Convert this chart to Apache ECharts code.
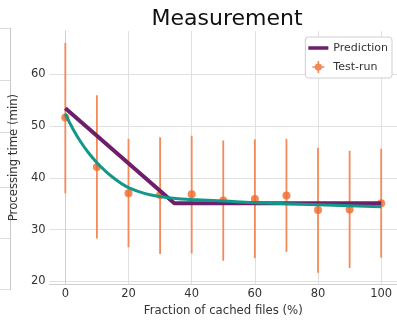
<!DOCTYPE html>
<html>
<head>
<meta charset="utf-8">
<script src="https://cdn.jsdelivr.net/npm/echarts@6/dist/echarts.min.js"></script>
<style>
  html, body { margin: 0; padding: 0; background: #fff; }
  #main { width: 397px; height: 322px; }
</style>
</head>
<body>
<div id="main"></div>
<script>
// test runs: fraction of cached files vs processing time
var runX = [0, 10, 20, 30, 40, 50, 60, 70, 80, 90, 100];
var runMean = [51.6, 42.1, 37.0, 36.7, 36.8, 35.6, 35.9, 36.6, 33.8, 33.9, 35.1];
var runLow = [37.0, 28.3, 26.6, 25.3, 25.4, 24.0, 24.5, 25.7, 21.7, 22.6, 24.6];
var runHigh = [66.0, 55.9, 47.5, 47.8, 48.1, 47.2, 47.4, 47.5, 45.8, 45.2, 45.6];

// prediction (piecewise linear)
var predX = [0, 34.5, 100];
var predY = [53.4, 35.1, 35.1];

// fitted curve (teal)
var fitX = [0, 2.5, 5, 7.5, 10, 12.5, 15, 17.5, 20, 25, 30, 35, 40, 50, 60, 70, 80, 90, 100];
var fitY = [52.3, 49.3, 46.8, 44.7, 42.9, 41.4, 40.1, 39.0, 38.1, 37.0, 36.4, 36.0, 35.8, 35.5, 35.2, 35.0, 34.8, 34.6, 34.4];

var xTicks = [0, 20, 40, 60, 80, 100];
var yTicks = [20, 30, 40, 50, 60];

var orange = '#f06a2a';
var orangeBar = '#f4895a';
var purple = '#6e1f6c';
var teal = '#11988a';
var font = 'DejaVu Sans';

function pairs(xs, ys) {
  var out = [];
  for (var i = 0; i < xs.length; i++) {
    out.push([xs[i], ys[i]]);
  }
  return out;
}

var barData = [];
for (var i = 0; i < runX.length; i++) {
  barData.push([runX[i], runLow[i], runHigh[i]]);
}

// bits of the neighbouring panel at the left edge
var leftPanel = [];
[28, 80, 132, 187, 238, 289].forEach(function (y) {
  leftPanel.push({
    type: 'line',
    shape: { x1: 0, y1: y + 0.5, x2: 10, y2: y + 0.5 },
    style: { stroke: '#dcdcdc', lineWidth: 1 }
  });
});
leftPanel.push({
  type: 'line',
  shape: { x1: 10.5, y1: 28, x2: 10.5, y2: 290 },
  style: { stroke: '#c8c8c8', lineWidth: 1 }
});

// legend icons (corner dots keep the box at 20x12 so nothing stretches)
var corners = 'M0 0L0.01 0L0.01 0.01Z M20 12L19.99 12L19.99 11.99Z ';
var lineIcon = 'path://' + corners + 'M0 4.3L20 4.3L20 7.7L0 7.7Z';
var runIcon = 'path://' + corners + 'M10.8 0L10.8 12L9.2 12L9.2 0Z M4 5.2L16 5.2L16 6.8L4 6.8Z M10 2.4A3.6 3.6 0 1 1 9.99 2.4Z';

var chart = echarts.init(document.getElementById('main'), null, { renderer: 'canvas' });

var option = {
  backgroundColor: '#fff',
  animation: false,
  textStyle: { fontFamily: font },
  title: {
    text: 'Measurement',
    left: 222,
    top: 3,
    textAlign: 'center',
    textStyle: { fontFamily: font, fontSize: 22, fontWeight: 'normal', color: '#111' }
  },
  graphic: leftPanel,
  legend: {
    orient: 'vertical',
    right: 5,
    top: 37,
    itemGap: 7,
    itemWidth: 20,
    itemHeight: 12,
    padding: [5, 4, 5, 3],
    backgroundColor: '#fff',
    borderColor: '#d0d0d0',
    borderWidth: 1,
    borderRadius: 3,
    textStyle: { fontFamily: font, fontSize: 11, color: '#333' },
    data: [
      { name: 'Prediction', icon: lineIcon },
      { name: 'Test-run', icon: runIcon }
    ]
  },
  grid: { left: 44, right: 0, top: 31, bottom: 31 },
  xAxis: {
    type: 'value',
    min: -5,
    max: 105,
    name: 'Fraction of cached files (%)',
    nameLocation: 'middle',
    nameGap: 20,
    nameTextStyle: { fontFamily: font, fontSize: 11.7, color: '#333' },
    axisLine: { show: true, lineStyle: { color: '#cfcfcf', width: 1 } },
    axisTick: { show: false, customValues: xTicks },
    axisLabel: { customValues: xTicks, margin: 4, fontFamily: font, fontSize: 11.5, color: '#333' },
    splitLine: { show: true, lineStyle: { color: '#e0e0e0', width: 1 } }
  },
  yAxis: {
    type: 'value',
    min: 19.5,
    max: 68.3,
    name: 'Processing time (min)',
    nameLocation: 'middle',
    nameGap: 16,
    nameTextStyle: { fontFamily: font, fontSize: 11.7, color: '#333' },
    axisLine: { show: true, lineStyle: { color: '#cfcfcf', width: 1 } },
    axisTick: { show: false, customValues: yTicks },
    axisLabel: { customValues: yTicks, margin: 4, fontFamily: font, fontSize: 11.5, color: '#333' },
    splitLine: { show: true, lineStyle: { color: '#e0e0e0', width: 1 } }
  },
  series: [
    {
      name: 'errbars',
      type: 'custom',
      data: barData,
      z: 2,
      renderItem: function (params, api) {
        var lo = api.coord([api.value(0), api.value(1)]);
        var hi = api.coord([api.value(0), api.value(2)]);
        return {
          type: 'line',
          shape: { x1: lo[0], y1: lo[1], x2: hi[0], y2: hi[1] },
          style: { stroke: orangeBar, lineWidth: 1.8 }
        };
      }
    },
    {
      name: 'Test-run',
      type: 'scatter',
      data: pairs(runX, runMean),
      symbolSize: 8,
      z: 3,
      itemStyle: { color: orange }
    },
    {
      name: 'Prediction',
      type: 'line',
      data: pairs(predX, predY),
      symbol: 'none',
      z: 4,
      lineStyle: { color: purple, width: 4 },
      itemStyle: { color: purple }
    },
    {
      name: 'fit',
      type: 'line',
      data: pairs(fitX, fitY),
      symbol: 'none',
      smooth: true,
      z: 5,
      lineStyle: { color: teal, width: 3 },
      itemStyle: { color: teal }
    }
  ]
};

chart.setOption(option);
</script>
</body>
</html>
